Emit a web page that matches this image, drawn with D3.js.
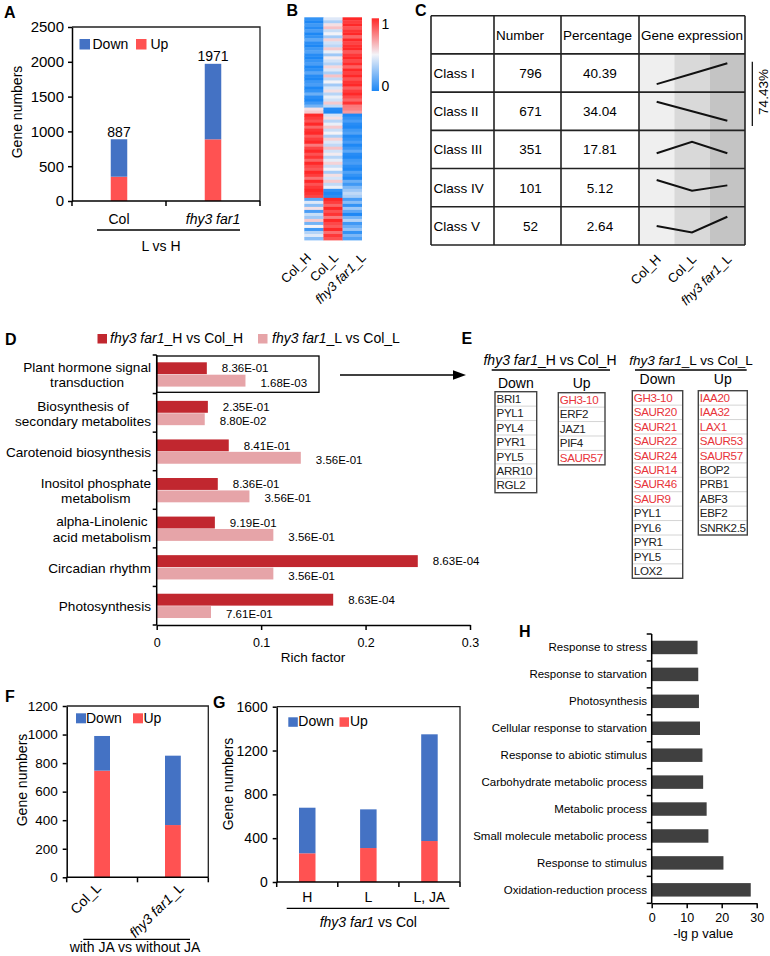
<!DOCTYPE html>
<html><head><meta charset="utf-8">
<script src="https://cdn.jsdelivr.net/npm/d3@7"></script>
<style>
body{margin:0;background:#fff;}
svg{display:block;font-family:"Liberation Sans",Arial,Helvetica,sans-serif;}
</style></head><body>
<svg id="fig" width="770" height="956"></svg>
<script>
// ---------------- DATA ----------------
// Panel A
const aCategories = ["Col", "fhy3 far1"];
const aUp = [349, 886];
const aTotal = [887, 1971];
const aTicks = [0, 500, 1000, 1500, 2000, 2500];
const aSeries = ["Down", "Up"];

// Panel B (heatmap, rows top->bottom, scaled 0..1)
const bSamples = ["Col_H", "Col_L", "fhy3 far1_L"];
const bColH = [0.05,0.0,0.08,0.02,0.1,0.0,0.05,0.15,0.03,0.0,0.08,0.12,0.02,0.0,0.06,0.1,0.0,0.04,0.14,0.02,0.0,0.07,0.1,0.0,0.05,0.18,0.03,0.0,0.08,0.2,
  0.55,0.6,
  1.0,0.95,0.9,1.0,0.85,0.97,1.0,0.88,0.95,1.0,0.8,0.93,1.0,0.9,0.97,0.85,1.0,0.92,0.88,1.0,0.95,0.82,1.0,0.9,0.96,
  1.0,0.97,0.93,
  0.15,0.45,0.25,0.55,0.1,0.4,0.3,0.6,0.2,0.5,0.08,0.35,0.45,0.25];
const bColL = [0.45,0.33,0.55,0.62,0.4,0.5,0.32,0.58,0.42,0.37,0.6,0.48,0.3,0.52,0.42,0.35,0.57,0.45,0.33,0.62,0.38,0.5,0.31,0.44,0.55,0.36,0.48,0.42,0.6,0.38,
  0.02,0.0,
  0.42,0.55,0.36,0.48,0.6,0.4,0.5,0.33,0.58,0.45,0.38,0.62,0.42,0.52,0.36,0.47,0.58,0.4,0.5,0.32,0.55,0.43,0.6,0.38,0.48,
  0.05,0.0,0.03,
  1.0,0.95,0.85,1.0,0.9,0.97,0.8,1.0,0.92,0.88,1.0,0.83,0.96,0.9];
const bFhy = [1.0,0.95,1.0,0.9,0.97,1.0,0.85,1.0,0.93,0.98,1.0,0.88,0.96,1.0,0.92,0.99,0.86,1.0,0.94,1.0,0.9,0.97,1.0,0.87,0.95,1.0,0.92,0.85,0.97,0.8,
  0.78,0.72,
  0.0,0.05,0.1,0.02,0.0,0.08,0.12,0.0,0.04,0.1,0.0,0.06,0.15,0.02,0.0,0.08,0.1,0.03,0.0,0.12,0.05,0.0,0.18,0.08,0.22,
  0.3,0.38,0.33,
  0.1,0.25,0.05,0.3,0.15,0.0,0.2,0.35,0.08,0.18,0.28,0.05,0.22,0.12];
const bScaleTicks = ["1", "0"];

// Panel C
const cHeaders = ["Number", "Percentage", "Gene expression"];
const cClasses = ["Class I", "Class II", "Class III", "Class IV", "Class V"];
const cNumbers = [796, 671, 351, 101, 52];
const cPercent = ["40.39", "34.04", "17.81", "5.12", "2.64"];
const cProfiles = [[0.21,0.48,0.755],[0.75,0.5,0.25],[0.4,0.7,0.4],[0.7,0.42,0.56],[0.5,0.33,0.74]];
const cBracket = "74.43%";

// Panel D
const dSeries = ["fhy3 far1_H vs Col_H", "fhy3 far1_L vs Col_L"];
const dTerms = [["Plant hormone signal","transduction"],["Biosynthesis of","secondary metabolites"],["Carotenoid biosynthesis"],
  ["Inositol phosphate","metabolism"],["alpha-Linolenic","acid metabolism"],["Circadian rhythm"],["Photosynthesis"]];
const dRichH = [0.048, 0.049, 0.069, 0.0585, 0.0557, 0.25, 0.169];
const dRichL = [0.085, 0.046, 0.138, 0.0888, 0.1117, 0.1117, 0.052];
const dPvalH = ["8.36E-01","2.35E-01","8.41E-01","8.36E-01","9.19E-01","8.63E-04","8.63E-04"];
const dPvalL = ["1.68E-03","8.80E-02","3.56E-01","3.56E-01","3.56E-01","3.56E-01","7.61E-01"];
const dTicks = [0, 0.1, 0.2, 0.3];

// Panel E
const eTitles = ["fhy3 far1_H vs Col_H", "fhy3 far1_L vs Col_L"];
const eHDown = ["BRI1","PYL1","PYL4","PYR1","PYL5","ARR10","RGL2"];
const eHUp = ["GH3-10","ERF2","JAZ1","PIF4","SAUR57"];
const eLDown = ["GH3-10","SAUR20","SAUR21","SAUR22","SAUR24","SAUR14","SAUR46","SAUR9","PYL1","PYL6","PYR1","PYL5","LOX2"];
const eLUp = ["IAA20","IAA32","LAX1","SAUR53","SAUR57","BOP2","PRB1","ABF3","EBF2","SNRK2.5"];
const eAuxinGenes = ["GH3-10","SAUR57","SAUR20","SAUR21","SAUR22","SAUR24","SAUR14","SAUR46","SAUR9","IAA20","IAA32","LAX1","SAUR53"];

// Panel F
const fCategories = ["Col_L", "fhy3 far1_L"];
const fUp = [747, 366];
const fTotal = [990, 852];
const fTicks = [0, 200, 400, 600, 800, 1000, 1200];

// Panel G
const gCategories = ["H", "L", "L, JA"];
const gUp = [262, 310, 374];
const gTotal = [678, 663, 1348];
const gTicks = [0, 400, 800, 1200, 1600];

// Panel H
const hTerms = ["Response to stress","Response to starvation","Photosynthesis","Cellular response to starvation",
  "Response to abiotic stimulus","Carbohydrate metabolic process","Metabolic process",
  "Small molecule metabolic process","Response to stimulus","Oxidation-reduction process"];
const hValues = [13.1, 13.3, 13.5, 13.8, 14.5, 14.7, 15.7, 16.2, 20.5, 28.3];
const hTicks = [0, 10, 20, 30];

// ---------------- DRAWING ----------------
const FONT = '"Liberation Sans", Arial, Helvetica, sans-serif';
const svg = d3.select("#fig");
const BLUE = "#4472C4", RED = "#FF5252";
const DRED = "#C1272F", PINK = "#E6A4A8";

function rich(sel, label) {
  const k = label.indexOf("fhy3 far1");
  if (k < 0) { sel.text(label); return sel; }
  if (k > 0) sel.append("tspan").text(label.slice(0, k));
  sel.append("tspan").attr("font-style", "italic").text("fhy3 far1");
  if (label.length > k + 9) sel.append("tspan").text(label.slice(k + 9));
  return sel;
}
function txt(parent, x, y, label, size, anchor) {
  const t = parent.append("text").attr("x", x).attr("y", y).attr("font-size", size)
    .attr("text-anchor", anchor || "start").attr("fill", "#000");
  return rich(t, label);
}
function letter(l, x, y) {
  svg.append("text").attr("x", x).attr("y", y).attr("font-size", 16).attr("font-weight", "bold").text(l);
}
function rotEnd(parent, px, py, label, size) {
  const t = parent.append("text").attr("text-anchor", "end").attr("font-size", size)
    .attr("transform", `translate(${px},${py}) rotate(-45)`);
  return rich(t, label);
}
function rotV(parent, x, y, label, size) {
  return parent.append("text").attr("text-anchor", "middle").attr("font-size", size)
    .attr("transform", `translate(${x},${y}) rotate(-90)`).text(label);
}
function hline(parent, x1, x2, y, w) {
  parent.append("line").attr("x1", x1).attr("x2", x2).attr("y1", y).attr("y2", y).attr("stroke", "#000").attr("stroke-width", w || 1.3);
}

function stacked(o) {
  const g = svg.append("g");
  const x = d3.scaleBand().domain(o.cats).range([o.left, o.right]);
  const y = d3.scaleLinear().domain([0, o.max]).range([o.bottom, o.top]);
  const rows = o.cats.map((c, i) => ({cat: c, Up: o.up[i], Down: o.total[i] - o.up[i]}));
  const series = d3.stack().keys(["Up", "Down"])(rows);
  const col = {Up: RED, Down: BLUE};
  series.forEach(s => {
    g.append("g").selectAll("rect").data(s).join("rect")
      .attr("x", d => x(d.data.cat) + x.bandwidth() / 2 - o.barW / 2)
      .attr("width", o.barW)
      .attr("y", d => y(d[1]))
      .attr("height", d => y(d[0]) - y(d[1]))
      .attr("fill", col[s.key]);
  });
  g.append("path").attr("d", `M${o.left},${o.top}H${o.right}V${o.bottom}`)
    .attr("fill", "none").attr("stroke", "#222").attr("stroke-width", 1.3);
  const ya = g.append("g").attr("transform", `translate(${o.left},0)`)
    .call(d3.axisLeft(y).tickValues(o.ticks).tickSize(4).tickSizeOuter(0).tickPadding(o.pad).tickFormat(d3.format("d")));
  ya.attr("font-family", FONT).attr("font-size", o.tickFont);
  ya.selectAll("path,line").attr("stroke", "#000").attr("stroke-width", 1.5);
  ya.selectAll("text").attr("fill", "#000");
  const edges = o.cats.map(c => x(c)).concat([o.right]);
  hline(g, o.left, o.right, o.bottom, 1.5);
  g.append("g").selectAll("line").data(edges).join("line")
    .attr("x1", d => d).attr("x2", d => d).attr("y1", o.bottom).attr("y2", o.bottom + 5)
    .attr("stroke", "#000").attr("stroke-width", 1.5);
  return {g, x, y};
}
function legend2(parent, items) {
  items.forEach(it => {
    parent.append("rect").attr("x", it.sx).attr("y", it.sy).attr("width", it.s).attr("height", it.s).attr("fill", it.color);
    txt(parent, it.tx, it.sy + it.s - 0.5, it.label, it.size);
  });
}

// ===== Panel A =====
letter("A", 4, 17.5);
const A = stacked({cats: aCategories, up: aUp, total: aTotal, ticks: aTicks, max: 2500,
  left: 72, right: 260, top: 27, bottom: 201, barW: 16.5, pad: 4, tickFont: 15});
A.g.selectAll(null).data(aCategories).join("text")
  .attr("x", d => A.x(d) + A.x.bandwidth() / 2).attr("y", (d, i) => A.y(aTotal[i]) - 2.5)
  .attr("text-anchor", "middle").attr("font-size", 14).text((d, i) => aTotal[i]);
aCategories.forEach(c => txt(A.g, A.x(c) + A.x.bandwidth() / 2, 223.5, c, 14, "middle"));
hline(A.g, 97, 240, 230, 1.3);
txt(A.g, 161, 251, "L vs H", 14, "middle");
rotV(A.g, 21.5, 112, "Gene numbers", 14);
legend2(A.g, [
  {sx: 79.5, sy: 39, s: 10.5, color: BLUE, tx: 92.5, label: aSeries[0], size: 14},
  {sx: 136, sy: 39, s: 10.5, color: RED, tx: 150.5, label: aSeries[1], size: 14}]);

// ===== Panel B =====
letter("B", 286.5, 16);
const hmX = d3.scaleBand().domain(bSamples).range([304.3, 361.7]);
const hmY = d3.scaleBand().domain(d3.range(bColH.length)).range([17.3, 240]);
const hmColor = d3.scaleLinear().domain([0, 0.5, 1]).range(["#1E88F5", "#F3F3F8", "#FF2828"]);
const hmCols = [bColH, bColL, bFhy];
bSamples.forEach((s, j) => {
  svg.append("g").selectAll("rect").data(hmCols[j]).join("rect")
    .attr("x", hmX(s)).attr("width", hmX.bandwidth() + 0.3)
    .attr("y", (d, i) => hmY(i)).attr("height", hmY.bandwidth() + 0.4)
    .attr("fill", d => hmColor(d));
});
const defs = svg.append("defs");
const grad = defs.append("linearGradient").attr("id", "cbar").attr("x1", 0).attr("x2", 0).attr("y1", 0).attr("y2", 1);
[[0, 1], [0.5, 0.5], [1, 0]].forEach(([o, v]) => grad.append("stop").attr("offset", o).attr("stop-color", hmColor(v)));
svg.append("rect").attr("x", 371.7).attr("y", 18.3).attr("width", 7.3).attr("height", 72.7).attr("fill", "url(#cbar)");
txt(svg, 381.5, 28.5, bScaleTicks[0], 14);
txt(svg, 381.5, 90.5, bScaleTicks[1], 14);
bSamples.forEach((s, i) => rotEnd(svg, hmX(s) + hmX.bandwidth() / 2 - 2 + 8.2 * i, 258.5, s, 13));

// ===== Panel C =====
letter("C", 415, 16);
const cColX = [431, 494, 561, 639, 745];
const cRowY = d3.scaleBand().domain(["head"].concat(cClasses)).range([15.7, 245]);
const cSampleX = d3.scaleBand().domain(bSamples).range([639, 745]);
const shades = ["#EFEFEF", "#D9D9D9", "#C4C4C4"];
const bodyTop = cRowY(cClasses[0]);
bSamples.forEach((s, i) => svg.append("rect").attr("x", cSampleX(s)).attr("y", bodyTop)
  .attr("width", cSampleX.bandwidth()).attr("height", 245 - bodyTop).attr("fill", shades[i]));
const pline = d3.line();
cProfiles.forEach((p, r) => {
  const top = cRowY(cClasses[r]), h = cRowY.bandwidth();
  svg.append("path").attr("d", pline(p.map((v, j) => [cSampleX(bSamples[j]) + cSampleX.bandwidth() / 2, top + (1 - v) * h])))
    .attr("fill", "none").attr("stroke", "#111").attr("stroke-width", 2);
});
const gridG = svg.append("g").attr("stroke", "#222").attr("stroke-width", 1.6);
["head"].concat(cClasses).forEach(k => gridG.append("line").attr("x1", 431).attr("x2", 745).attr("y1", cRowY(k)).attr("y2", cRowY(k)));
gridG.append("line").attr("x1", 431).attr("x2", 745).attr("y1", 245).attr("y2", 245);
cColX.forEach(x => gridG.append("line").attr("x1", x).attr("x2", x).attr("y1", 15.7).attr("y2", 245));
const hc = cRowY("head") + cRowY.bandwidth() / 2;
cHeaders.forEach((h, i) => txt(svg, cColX[i + 1] + 2, hc + 5, h, 13.5));
cClasses.forEach((c, r) => {
  const yc = cRowY(c) + cRowY.bandwidth() / 2 + 5;
  txt(svg, 433.5, yc, c, 13.5);
  txt(svg, 530.5, yc, String(cNumbers[r]), 13.5, "middle");
  txt(svg, 600, yc, cPercent[r], 13.5, "middle");
});
svg.append("line").attr("x1", 752.3).attr("x2", 752.3).attr("y1", 61.7).attr("y2", 126).attr("stroke", "#000").attr("stroke-width", 1.2);
rotV(svg, 767.5, 92, cBracket, 13.5);
bSamples.forEach(s => rotEnd(svg, cSampleX(s) + cSampleX.bandwidth() / 2 + 5, 260, s, 13));

// ===== Panel D =====
letter("D", 5, 345);
const dX = d3.scaleLinear().domain([0, 0.3]).range([156.7, 470]);
const dY = d3.scaleBand().domain(d3.range(dTerms.length)).range([355, 625]);
const dSub = d3.scaleBand().domain(["H", "L"]).range([7.3, 31.6]).paddingInner(0.04);
const dG = svg.append("g");
const dVals = {H: dRichH, L: dRichL}, dP = {H: dPvalH, L: dPvalL}, dCol = {H: DRED, L: PINK}, dOff = {H: 0.2, L: 2};
["H", "L"].forEach(k => {
  dG.append("g").selectAll("rect").data(dVals[k]).join("rect")
    .attr("x", dX(0)).attr("y", (d, i) => dY(i) + dSub(k))
    .attr("width", d => dX(d) - dX(0)).attr("height", dSub.bandwidth()).attr("fill", dCol[k]);
  dG.append("g").selectAll("text").data(dVals[k]).join("text")
    .attr("x", d => dX(d) + 15).attr("y", (d, i) => dY(i) + dSub(k) + dSub.bandwidth() / 2 + dOff[k])
    .attr("dy", "0.35em").attr("font-size", 11.5).text((d, i) => dP[k][i]);
});
const dxa = dG.append("g").attr("transform", "translate(0,625)")
  .call(d3.axisBottom(dX).tickValues(dTicks).tickSize(5).tickSizeOuter(0).tickPadding(8.5).tickFormat(d => d === 0 ? "0" : String(d)));
dxa.attr("font-family", FONT).attr("font-size", 12.5);
dxa.selectAll("path,line").attr("stroke", "#000").attr("stroke-width", 1.5);
dxa.selectAll("text").attr("fill", "#000");
dG.append("line").attr("x1", dX(0)).attr("x2", dX(0)).attr("y1", 355).attr("y2", 625).attr("stroke", "#000").attr("stroke-width", 1.5);
d3.range(dTerms.length + 1).forEach(i => {
  const yy = 355 + i * dY.step();
  dG.append("line").attr("x1", dX(0) - 4).attr("x2", dX(0)).attr("y1", yy).attr("y2", yy).attr("stroke", "#000").attr("stroke-width", 1.5);
});
txt(dG, 313, 662, "Rich factor", 13.5, "middle");
dTerms.forEach((lines, i) => {
  const c = dY(i) + dY.bandwidth() / 2;
  const tmp = lines.map(l => dG.append("text").attr("font-size", 13.6).attr("text-anchor", "middle").text(l));
  const w = d3.max(tmp, t => t.node().getComputedTextLength());
  const cx = 151 - w / 2;
  const offs = lines.length === 2 ? [-6.9, 8.4] : [1];
  tmp.forEach((t, j) => t.attr("x", cx).attr("y", c + offs[j]).attr("dy", "0.35em"));
});
dG.append("rect").attr("x", dX(0)).attr("y", 356).attr("width", 162.3).attr("height", 36.3)
  .attr("fill", "none").attr("stroke", "#000").attr("stroke-width", 1.3);
dG.append("line").attr("x1", 340).attr("x2", 457).attr("y1", 375).attr("y2", 375).attr("stroke", "#000").attr("stroke-width", 1.5);
dG.append("path").attr("d", "M466,375L453,370.3L453,379.7Z").attr("fill", "#000");
legend2(dG, [
  {sx: 97.5, sy: 334, s: 9.5, color: DRED, tx: 110, label: dSeries[0], size: 14},
  {sx: 258, sy: 334, s: 9.5, color: PINK, tx: 272, label: dSeries[1], size: 14}]);

// ===== Panel E =====
letter("E", 461.5, 344);
const eG = svg.append("g");
txt(eG, 550, 365, eTitles[0], 14, "middle");
txt(eG, 691, 365, eTitles[1], 13.5, "middle");
hline(eG, 491.7, 610, 370, 1.3);
hline(eG, 635, 746.7, 370, 1.3);
const eBoxes = [
  {genes: eHDown, x0: 495, x1: 536.7, top: 391.7, head: "Down", hy: 388.3},
  {genes: eHUp, x0: 558.3, x1: 605, top: 392.7, head: "Up", hy: 388.3},
  {genes: eLDown, x0: 632.3, x1: 682.7, top: 390.7, head: "Down", hy: 384.3},
  {genes: eLUp, x0: 698.3, x1: 747.3, top: 390.7, head: "Up", hy: 384.3}];
const eRow = 14.43;
eBoxes.forEach(b => {
  txt(eG, (b.x0 + b.x1) / 2, b.hy, b.head, 14, "middle");
  const ry = d3.scaleBand().domain(b.genes).range([b.top, b.top + eRow * b.genes.length]);
  eG.append("g").selectAll("line").data(b.genes.slice(1)).join("line")
    .attr("x1", b.x0).attr("x2", b.x1).attr("y1", d => ry(d)).attr("y2", d => ry(d))
    .attr("stroke", "#D4D4D4").attr("stroke-width", 1);
  eG.append("g").selectAll("text").data(b.genes).join("text")
    .attr("x", b.x0 + 1.5).attr("y", d => ry(d) + 11.2)
    .attr("font-size", 11.6).attr("letter-spacing", "-0.35")
    .attr("fill", d => eAuxinGenes.includes(d) ? "#E8343A" : "#222").text(d => d);
  eG.append("rect").attr("x", b.x0).attr("y", b.top).attr("width", b.x1 - b.x0)
    .attr("height", eRow * b.genes.length).attr("fill", "none").attr("stroke", "#444").attr("stroke-width", 1.4);
});

// ===== Panel F =====
letter("F", 5, 701.7);
const F = stacked({cats: fCategories, up: fUp, total: fTotal, ticks: fTicks, max: 1200,
  left: 66.7, right: 208.3, top: 706, bottom: 877.3, barW: 15.8, pad: 5, tickFont: 13.5});
fCategories.forEach(c => {
  const t = rotEnd(F.g, 0, 0, c, 14);
  const w = t.node().getComputedTextLength();
  t.attr("transform", `translate(${F.x(c) + F.x.bandwidth() / 2 + w * 0.354 - 13},889) rotate(-45)`);
});
hline(F.g, 83.3, 190, 939.3, 1.3);
txt(F.g, 135, 951.5, "with JA vs without JA", 14, "middle");
rotV(F.g, 26.5, 780, "Gene numbers", 14);
legend2(F.g, [
  {sx: 76, sy: 713.3, s: 10, color: BLUE, tx: 86, label: aSeries[0], size: 14},
  {sx: 133, sy: 713.3, s: 10, color: RED, tx: 143.5, label: aSeries[1], size: 14}]);

// ===== Panel G =====
letter("G", 213, 707.5);
const G = stacked({cats: gCategories, up: gUp, total: gTotal, ticks: gTicks, max: 1600,
  left: 276.7, right: 460, top: 706.7, bottom: 882, barW: 16.5, pad: 5, tickFont: 14});
gCategories.forEach(c => txt(G.g, G.x(c) + G.x.bandwidth() / 2, 902, c, 14, "middle"));
hline(G.g, 286.7, 449.3, 908.3, 1.3);
txt(G.g, 368.3, 926.7, "fhy3 far1 vs Col", 14, "middle");
rotV(G.g, 232.5, 784, "Gene numbers", 14);
legend2(G.g, [
  {sx: 288.3, sy: 717.3, s: 9.5, color: BLUE, tx: 298.3, label: aSeries[0], size: 14},
  {sx: 339.5, sy: 717.3, s: 9.5, color: RED, tx: 350, label: aSeries[1], size: 14}]);

// ===== Panel H =====
letter("H", 519, 636.5);
const hG = svg.append("g");
const hX = d3.scaleLinear().domain([0, 30]).range([651.7, 756.7]);
const hY = d3.scaleBand().domain(hTerms).range([634, 903.3]).paddingInner(0.5).paddingOuter(0.25);
hG.append("g").selectAll("rect").data(hValues).join("rect")
  .attr("x", hX(0)).attr("y", (d, i) => hY(hTerms[i])).attr("width", d => hX(d) - hX(0))
  .attr("height", hY.bandwidth()).attr("fill", "#404040");
hG.append("g").selectAll("text").data(hTerms).join("text")
  .attr("x", 647).attr("y", d => hY(d) + hY.bandwidth() / 2).attr("dy", "0.35em")
  .attr("text-anchor", "end").attr("font-size", 11.5).text(d => d);
const hxa = hG.append("g").attr("transform", "translate(0,903.3)")
  .call(d3.axisBottom(hX).tickValues(hTicks).tickSize(5).tickSizeOuter(0).tickPadding(5));
hxa.attr("font-family", FONT).attr("font-size", 12.5);
hxa.selectAll("path,line").attr("stroke", "#000").attr("stroke-width", 1.5);
hxa.selectAll("text").attr("fill", "#000");
hG.append("line").attr("x1", hX(0)).attr("x2", hX(0)).attr("y1", 634).attr("y2", 903.3).attr("stroke", "#000").attr("stroke-width", 1.5);
d3.range(hTerms.length + 1).forEach(i => {
  const yy = 634 + i * hY.step();
  hG.append("line").attr("x1", hX(0) - 5).attr("x2", hX(0)).attr("y1", yy).attr("y2", yy).attr("stroke", "#000").attr("stroke-width", 1.5);
});
txt(hG, 703.3, 938, "-lg p value", 13, "middle");
</script></body></html>
